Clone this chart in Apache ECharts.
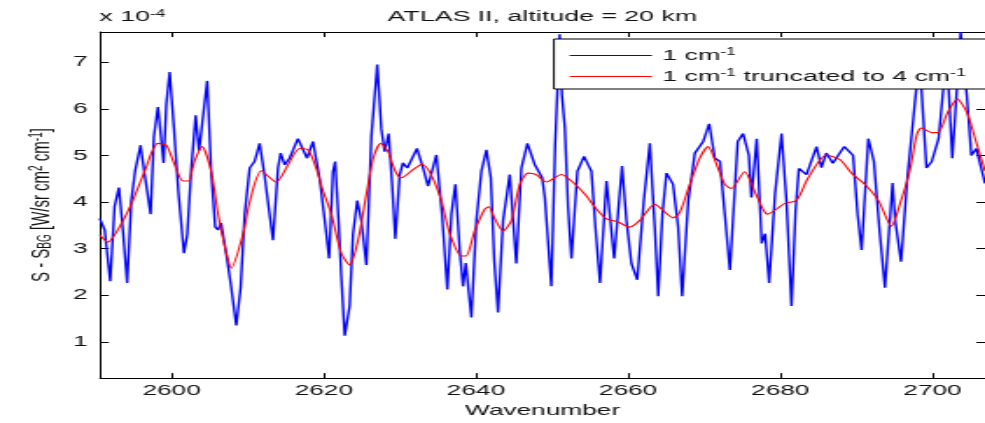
<!DOCTYPE html>
<html>
<head>
<meta charset="utf-8">
<script src="https://cdn.jsdelivr.net/npm/echarts@6/dist/echarts.min.js"></script>
<style>
  html, body { margin: 0; padding: 0; background: #fff; }
  #frame { width: 985px; height: 423px; overflow: hidden; position: relative; }
  /* the figure is laid out at natural width and widened to the page */
  #chart { width: 563px; height: 423px; transform: scaleX(1.74956); transform-origin: 0 0; }
</style>
</head>
<body>
<div id="frame"><div id="chart"></div></div>
<script>
// wavenumber (cm^-1) and signal (x 1e-4 W/sr cm^2 cm^-1) of the 1 cm^-1 spectrum
const wnFine = [2590.55,2591.2,2591.93,2592.5,2593.07,2593.6,2594.16,2594.7,2595.2,2595.92,2596.45,2597.24,2597.67,2598.2,2598.95,2599.3,2599.74,2600.3,2600.9,2601.62,2602.05,2602.58,2603.16,2603.6,2604.68,2605.2,2605.73,2606.1,2606.5,2607.2,2607.84,2608.5,2609.07,2609.6,2610.26,2610.9,2611.57,2612.2,2613.32,2613.98,2614.33,2614.86,2615.5,2616.6,2617.8,2618.58,2619.46,2620.2,2620.7,2621.2,2621.5,2621.96,2622.3,2622.75,2623.4,2623.84,2624.4,2624.93,2625.6,2626.25,2627.03,2627.56,2628.0,2628.53,2628.97,2629.4,2629.98,2630.4,2630.98,2632.25,2633.05,2633.7,2634.8,2635.54,2636.24,2636.77,2637.3,2637.87,2638.3,2638.66,2639.4,2640.05,2640.71,2641.37,2641.95,2642.4,2642.9,2643.56,2644.44,2645.3,2645.97,2646.76,2647.73,2648.7,2649.05,2649.9,2650.4,2651.0,2651.3,2651.68,2652.1,2652.55,2653.33,2654.2,2655.17,2655.7,2656.3,2657.15,2658.16,2659.2,2659.78,2660.43,2661.2,2662.06,2662.85,2663.5,2663.95,2664.5,2665.04,2665.9,2666.57,2667.1,2667.9,2668.77,2669.86,2670.65,2671.4,2672.07,2672.7,2673.37,2674.4,2675.1,2675.87,2676.2,2676.9,2677.55,2678.0,2678.53,2679.3,2680.16,2680.8,2681.47,2682.0,2682.44,2683.44,2684.76,2685.4,2686.05,2686.9,2688.4,2689.56,2690.15,2690.68,2691.56,2692.3,2693.0,2693.75,2694.75,2695.1,2695.86,2696.7,2697.6,2698.3,2698.75,2699.2,2699.9,2700.8,2701.4,2702.0,2702.6,2703.7,2704.5,2705.1,2705.75,2706.9];
const sigFine = [3.65,3.4,2.30,3.9,4.31,3.4,2.26,4.03,4.66,5.22,4.6,3.74,5.4,6.04,4.84,6.1,6.79,5.6,4.2,2.90,3.3,4.7,5.86,5.1,6.60,4.66,3.46,3.4,3.55,2.87,2.16,1.35,2.16,3.74,4.73,4.87,5.26,4.59,3.18,4.73,5.05,4.8,4.94,5.36,4.94,5.30,4.5,3.5,2.79,4.65,4.87,3.53,2.4,1.13,1.77,3.32,4.03,3.6,2.65,5.4,6.95,5.57,5.08,5.47,4.41,3.21,4.59,4.84,4.73,5.15,4.73,4.34,5.01,3.74,2.12,3.74,4.38,2.96,2.19,2.69,1.52,3.6,4.66,5.12,4.52,2.75,1.63,3.6,4.59,2.68,4.73,5.26,4.8,4.52,4.1,2.19,5.22,7.6,6.3,5.6,3.9,2.79,4.66,4.98,4.66,3.46,2.26,4.45,2.79,4.77,3.6,2.68,2.33,4.03,5.26,3.46,1.98,3.74,4.62,4.38,3.46,1.98,4.03,5.05,5.3,5.68,4.94,4.87,3.74,2.54,5.3,5.47,5.0,4.10,5.36,3.11,3.32,2.26,4.17,5.47,4.03,1.77,3.81,4.72,4.59,5.19,4.74,5.05,4.83,5.19,5.0,3.74,2.97,5.36,4.87,3.46,2.16,4.41,3.6,2.72,4.52,6.0,7.1,5.9,4.73,4.87,5.36,6.4,6.8,4.94,7.65,6.3,5.0,5.15,4.4];

// the same spectrum truncated to 4 cm^-1
const wnTrunc = [2590.55,2591.6,2593.37,2594.9,2596.45,2598.2,2599.3,2600.4,2601.5,2602.2,2603.0,2604.0,2605.2,2606.1,2607.0,2607.84,2609.4,2610.26,2611.8,2613.75,2615.3,2616.83,2617.92,2619.0,2619.9,2621.0,2622.3,2623.4,2624.5,2625.6,2626.5,2627.5,2628.45,2629.4,2630.2,2631.7,2632.9,2634.1,2635.45,2636.56,2638.1,2638.7,2639.85,2641.16,2641.7,2642.47,2643.56,2644.65,2645.76,2646.85,2647.9,2648.7,2649.26,2651.23,2652.55,2654.3,2655.83,2657.15,2658.7,2660.2,2661.5,2663.5,2665.9,2666.8,2668.1,2669.4,2670.5,2671.8,2672.7,2673.55,2675.3,2676.6,2677.7,2678.3,2680.6,2682.1,2683.67,2686.07,2687.84,2689.36,2691.1,2692.9,2694.6,2695.7,2697.0,2697.9,2698.55,2699.9,2700.7,2702.0,2703.26,2704.5,2705.6,2706.9];
const sigTrunc = [3.29,3.14,3.53,4.03,4.66,5.26,5.22,4.80,4.45,4.45,4.87,5.19,4.66,3.74,3.04,2.58,3.32,4.0,4.67,4.43,4.80,5.15,5.12,4.73,4.24,3.74,2.90,2.65,3.18,4.17,4.94,5.26,5.08,4.66,4.52,4.69,4.81,4.59,4.03,3.32,2.84,2.84,3.39,3.85,3.9,3.64,3.38,3.6,4.38,4.62,4.59,4.48,4.43,4.59,4.45,4.17,3.85,3.64,3.57,3.46,3.6,3.95,3.66,3.78,4.38,4.94,5.19,4.73,4.38,4.29,4.65,4.24,3.85,3.74,3.97,4.03,4.52,5.01,4.91,4.62,4.38,4.03,3.48,3.95,4.66,5.43,5.59,5.49,5.49,5.93,6.21,5.93,5.36,4.66];

const xTicks = [2600, 2620, 2640, 2660, 2680, 2700];
const yTicks = [1, 2, 3, 4, 5, 6, 7];
const seriesNames = ['1 cm-1', '1 cm-1 truncated to 4 cm-1'];

const FONT = '"Liberation Sans", Arial, Helvetica, sans-serif';
const INK = '#111';
const richText = {
  sup: { fontSize: 10, fontFamily: FONT, color: INK, verticalAlign: 'top', lineHeight: 10 },
  sub: { fontSize: 10, fontFamily: FONT, color: INK, verticalAlign: 'bottom', lineHeight: 10 }
};
const supFmt = s => s.replace(/-1/g, '{sup|-1}');

const pairs = (xs, ys) => xs.map((x, i) => [x, ys[i]]);
const X_MIN = 2590.6, X_MAX = 2706.9, Y_MIN = 0.22, Y_MAX = 7.65;

function xAxisDef(pos, withLabels) {
  return {
    type: 'value', position: pos, min: X_MIN, max: X_MAX,
    axisLine: { show: true, onZero: false, lineStyle: { color: '#000', width: 1 } },
    axisTick: { show: true, inside: true, length: 5, customValues: xTicks, lineStyle: { color: '#000', width: 1 } },
    axisLabel: withLabels
      ? { show: true, customValues: xTicks, margin: 5, fontSize: 15, color: INK, fontFamily: FONT,
          formatter: v => String(Math.round(v)) }
      : { show: false },
    splitLine: { show: false },
    name: withLabels ? 'Wavenumber' : '',
    nameLocation: 'middle', nameGap: 20,
    nameTextStyle: { fontSize: 15, color: INK, fontFamily: FONT }
  };
}
function yAxisDef(pos, withLabels) {
  return {
    type: 'value', position: pos, min: Y_MIN, max: Y_MAX,
    axisLine: { show: true, onZero: false, lineStyle: { color: '#000', width: 1 } },
    axisTick: { show: true, inside: true, length: 5, customValues: yTicks, lineStyle: { color: '#000', width: 1 } },
    axisLabel: withLabels
      ? { show: true, customValues: yTicks, margin: 7, fontSize: 15, color: INK, fontFamily: FONT,
          formatter: v => String(Math.round(v)) }
      : { show: false },
    splitLine: { show: false },
    name: withLabels ? 'S - S{sub|BG} [W/sr cm{sup|2} cm{sup|-1}]' : '',
    nameLocation: 'middle', nameRotate: 90, nameGap: 24,
    nameTextStyle: { fontSize: 15, color: INK, fontFamily: FONT, rich: richText }
  };
}

const chart = echarts.init(document.getElementById('chart'), null, { renderer: 'canvas' });
chart.setOption({
  animation: false,
  backgroundColor: '#fff',
  grid: { left: 57.2, right: 0, top: 32, bottom: 40, containLabel: false },
  xAxis: [xAxisDef('bottom', true), xAxisDef('top', false)],
  yAxis: [yAxisDef('left', true), yAxisDef('right', false)],
  legend: {
    orient: 'vertical', left: 316.6, top: 39, z: 10,
    padding: [8, 12, 4, 9], itemGap: 4, itemWidth: 47, itemHeight: 1.2,
    icon: 'rect',
    backgroundColor: '#fff', borderColor: '#000', borderWidth: 1, borderRadius: 0,
    data: seriesNames,
    textStyle: { fontSize: 15.3, color: INK, fontFamily: FONT, lineHeight: 17, rich: richText, padding: [0, 0, 0, 1] },
    formatter: supFmt
  },
  graphic: [
    { type: 'text', x: 310, y: 17,
      style: { text: 'ATLAS II, altitude = 20 km', fontSize: 15.3, fontFamily: FONT, fill: INK,
               textAlign: 'center', textVerticalAlign: 'middle' } },
    { type: 'text', x: 56.8, y: 9,
      style: { text: 'x 10{sup|-4}', fontSize: 15.3, fontFamily: FONT, fill: INK, rich: richText } }
  ],
  series: [
    { name: seriesNames[0], type: 'line', data: pairs(wnFine, sigFine), symbol: 'none',
      lineStyle: { color: '#0000ff', width: 1.4 }, itemStyle: { color: '#0000ff' }, z: 2 },
    { name: seriesNames[1], type: 'line', data: pairs(wnTrunc, sigTrunc), symbol: 'none', smooth: 0.25,
      lineStyle: { color: '#ff0000', width: 1.1 }, itemStyle: { color: '#ff0000' }, z: 3 }
  ]
});
</script>
</body>
</html>
